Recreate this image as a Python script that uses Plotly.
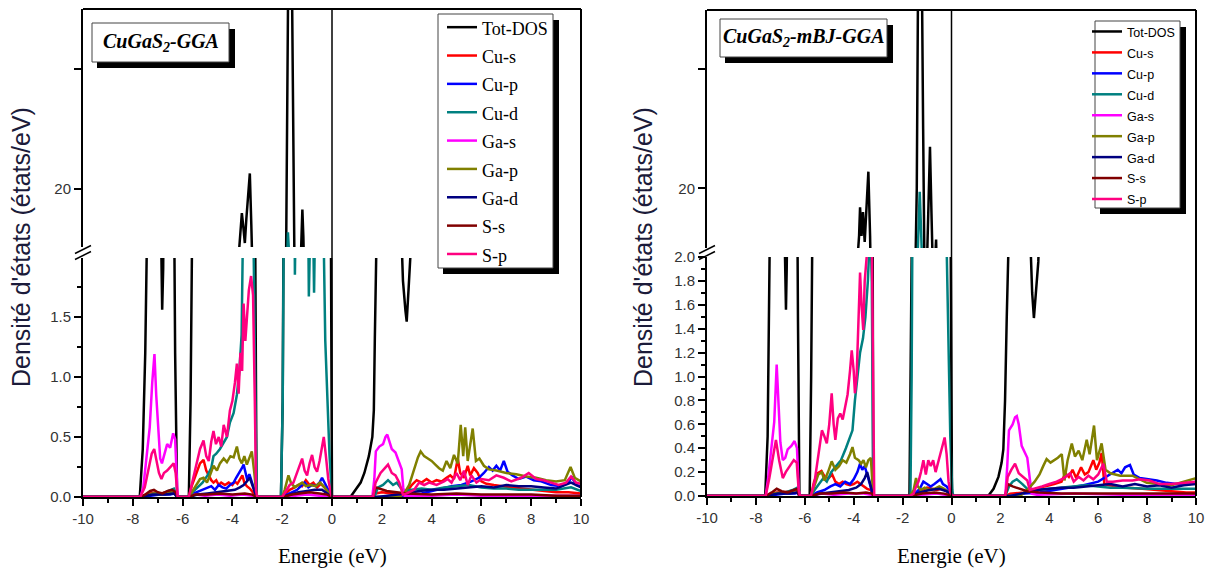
import plotly.graph_objects as go

# ---------------------------------------------------------------------------
# Density of states of CuGaS2 (energy in eV, DOS in states/eV), two functionals.
# Each series is a list of (energy, DOS) points.
# ---------------------------------------------------------------------------

series_names = ["Tot-DOS", "Cu-s", "Cu-p", "Cu-d", "Ga-s", "Ga-p", "Ga-d", "S-s", "S-p"]
series_colors = ["#000000", "#ff0000", "#0000ff", "#008080", "#ff00ff",
                 "#808000", "#000080", "#800000", "#ff0080"]

x_tick_vals = [-10, -8, -6, -4, -2, 0, 2, 4, 6, 8, 10]
x_tick_text = ["-10", "-8", "-6", "-4", "-2", "0", "2", "4", "6", "8", "10"]
gga_low_ticks = [0.0, 0.5, 1.0, 1.5]
mbj_low_ticks = [0.0, 0.2, 0.4, 0.6, 0.8, 1.0, 1.2, 1.4, 1.6, 1.8, 2.0]
high_tick_vals = [20]
high_tick_text = ["20"]
high_minor_vals = [30]

# ----------------------------- GGA -----------------------------------------
gga_tot = [(-10, 0), (-7.72, 0), (-7.6, 0.4), (-7.5, 1.2), (-7.4, 2.6), (-7.3, 6.0), (-7.15, 9.5),
           (-7.0, 7.0), (-6.92, 3.0), (-6.86, 1.9), (-6.82, 1.56), (-6.78, 1.9), (-6.72, 3.5),
           (-6.6, 7.5), (-6.45, 6.0), (-6.36, 3.0), (-6.3, 1.2), (-6.22, 0),
           (-5.75, 0), (-5.68, 0.8), (-5.6, 2.6), (-5.45, 6.0), (-5.2, 7.5), (-4.9, 8.5), (-4.6, 8.0),
           (-4.3, 10.0), (-4.0, 11.5), (-3.8, 13.0), (-3.68, 16.0), (-3.62, 18.0), (-3.56, 16.8),
           (-3.5, 15.5), (-3.44, 17.5), (-3.38, 19.2), (-3.3, 21.3), (-3.24, 17.0), (-3.15, 7.0),
           (-3.08, 2.0), (-3.03, 0),
           (-2.05, 0), (-1.98, 0.8), (-1.94, 2.5), (-1.86, 10.0), (-1.8, 25.0), (-1.75, 40.0),
           (-1.62, 40.0), (-1.55, 25.0), (-1.5, 12.0), (-1.4, 9.0), (-1.3, 11.0), (-1.24, 15.0),
           (-1.19, 18.3), (-1.15, 16.0), (-1.08, 9.0), (-0.9, 7.5), (-0.6, 6.5), (-0.35, 5.5),
           (-0.15, 4.5), (-0.04, 2.0), (0.0, 0),
           (0.74, 0), (0.95, 0.06), (1.15, 0.12), (1.3, 0.2), (1.48, 0.34), (1.62, 0.5), (1.68, 0.72),
           (1.72, 1.32), (1.76, 2.0), (1.85, 3.5), (2.1, 6.0), (2.4, 5.0), (2.65, 3.0), (2.78, 2.1),
           (2.85, 1.8), (2.95, 1.55), (3.0, 1.46), (3.08, 1.75), (3.16, 2.05), (3.3, 4.0), (3.6, 6.5),
           (4.2, 6.0), (4.8, 7.5), (5.4, 9.0), (6.0, 8.0), (6.6, 6.5), (7.4, 5.5), (8.2, 5.0),
           (9.0, 5.0), (10, 5.0)]

gga_cu_s = [(-10, 0), (-7.7, 0), (-7.5, 0.02), (-7.3, 0.03), (-7.1, 0.04), (-6.9, 0.03), (-6.6, 0.04),
            (-6.35, 0.05), (-6.22, 0),
            (-5.75, 0), (-5.62, 0.1), (-5.45, 0.2), (-5.3, 0.28), (-5.16, 0.31), (-5.05, 0.22),
            (-4.95, 0.18), (-4.85, 0.14), (-4.76, 0.12), (-4.65, 0.14), (-4.55, 0.1), (-4.45, 0.12),
            (-4.3, 0.1), (-4.15, 0.12), (-4.0, 0.1), (-3.9, 0.13), (-3.8, 0.11), (-3.7, 0.15),
            (-3.6, 0.18), (-3.52, 0.12), (-3.42, 0.09), (-3.3, 0.07), (-3.18, 0.04), (-3.03, 0),
            (-2.0, 0), (-1.85, 0.03), (-1.7, 0.06), (-1.5, 0.08), (-1.35, 0.1), (-1.2, 0.09),
            (-1.05, 0.14), (-0.9, 0.1), (-0.75, 0.12), (-0.6, 0.08), (-0.45, 0.11), (-0.3, 0.08),
            (-0.15, 0.04), (0.0, 0),
            (1.6, 0), (1.75, 0.03), (2.0, 0.04), (2.4, 0.03), (2.8, 0.02), (3.0, 0.04), (3.2, 0.1),
            (3.4, 0.14), (3.6, 0.12), (3.8, 0.15), (4.0, 0.12), (4.2, 0.14), (4.4, 0.13), (4.6, 0.16),
            (4.75, 0.18), (4.9, 0.15), (5.05, 0.32), (5.15, 0.2), (5.3, 0.16), (5.45, 0.26),
            (5.55, 0.18), (5.7, 0.24), (5.85, 0.2), (6.0, 0.13), (6.2, 0.11), (6.5, 0.1), (6.8, 0.09),
            (7.2, 0.08), (7.6, 0.07), (8.0, 0.06), (8.5, 0.05), (9.0, 0.04), (9.5, 0.04), (10, 0.03)]

gga_cu_p = [(-10, 0), (-7.7, 0), (-7.3, 0.01), (-6.9, 0.02), (-6.5, 0.02), (-6.3, 0.03), (-6.22, 0),
            (-5.75, 0), (-5.55, 0.03), (-5.3, 0.05), (-5.05, 0.07), (-4.85, 0.09), (-4.7, 0.06),
            (-4.55, 0.1), (-4.4, 0.08), (-4.25, 0.07), (-4.1, 0.1), (-3.95, 0.12), (-3.85, 0.16),
            (-3.72, 0.2), (-3.62, 0.24), (-3.55, 0.27), (-3.48, 0.2), (-3.4, 0.14), (-3.32, 0.19),
            (-3.22, 0.12), (-3.1, 0.04), (-3.03, 0),
            (-2.0, 0), (-1.8, 0.02), (-1.6, 0.04), (-1.4, 0.06), (-1.25, 0.09), (-1.1, 0.12),
            (-0.95, 0.08), (-0.8, 0.1), (-0.65, 0.09), (-0.5, 0.12), (-0.4, 0.16), (-0.3, 0.12),
            (-0.15, 0.05), (0.0, 0),
            (2.8, 0), (3.2, 0.02), (3.6, 0.03), (4.0, 0.05), (4.4, 0.07), (4.8, 0.09), (5.2, 0.1),
            (5.6, 0.13), (5.9, 0.16), (6.1, 0.2), (6.3, 0.25), (6.45, 0.22), (6.6, 0.26), (6.75, 0.22),
            (6.9, 0.3), (7.05, 0.21), (7.25, 0.18), (7.5, 0.15), (7.8, 0.17), (8.1, 0.14), (8.4, 0.13),
            (8.8, 0.1), (9.2, 0.09), (9.5, 0.12), (9.62, 0.17), (9.8, 0.1), (10, 0.09)]

gga_cu_d = [(-10, 0), (-7.7, 0), (-7.4, 0.02), (-7.1, 0.03), (-6.8, 0.03), (-6.55, 0.05), (-6.35, 0.07),
            (-6.22, 0),
            (-5.75, 0), (-5.6, 0.04), (-5.4, 0.08), (-5.2, 0.12), (-5.0, 0.18), (-4.85, 0.24),
            (-4.76, 0.34), (-4.65, 0.36), (-4.5, 0.4), (-4.35, 0.45), (-4.22, 0.5), (-4.1, 0.62),
            (-3.95, 0.7), (-3.82, 0.85), (-3.72, 1.05), (-3.63, 1.35), (-3.58, 2.3), (-3.5, 4.0),
            (-3.4, 5.0), (-3.3, 4.5), (-3.2, 3.0), (-3.12, 1.5), (-3.06, 0.4), (-3.03, 0),
            (-2.05, 0), (-1.98, 0.8), (-1.94, 2.2), (-1.88, 8.0), (-1.82, 14.0), (-1.77, 16.4),
            (-1.72, 14.5), (-1.62, 8.0), (-1.53, 3.5), (-1.49, 1.85), (-1.44, 3.0), (-1.3, 5.0),
            (-1.15, 4.0), (-1.0, 3.0), (-0.95, 2.2), (-0.93, 1.67), (-0.9, 2.3), (-0.8, 3.0),
            (-0.74, 2.0), (-0.72, 1.7), (-0.68, 2.3), (-0.55, 2.8), (-0.42, 2.4), (-0.33, 2.1),
            (-0.27, 1.3), (-0.2, 0.85), (-0.1, 0.35), (0.0, 0),
            (1.7, 0), (1.85, 0.08), (2.05, 0.1), (2.25, 0.14), (2.45, 0.1), (2.6, 0.12), (2.85, 0.05),
            (3.2, 0.06), (3.6, 0.07), (4.0, 0.06), (4.5, 0.08), (5.0, 0.09), (5.5, 0.1), (6.0, 0.08),
            (6.5, 0.07), (7.0, 0.07), (7.5, 0.06), (8.0, 0.06), (9.0, 0.06), (9.6, 0.08), (10, 0.05)]

gga_ga_s = [(-10, 0), (-7.7, 0), (-7.58, 0.08), (-7.45, 0.35), (-7.32, 0.58), (-7.22, 0.95),
            (-7.13, 1.19), (-7.06, 0.85), (-6.98, 0.55), (-6.9, 0.32), (-6.83, 0.28), (-6.74, 0.36),
            (-6.62, 0.44), (-6.5, 0.41), (-6.38, 0.53), (-6.3, 0.48), (-6.24, 0.08), (-6.2, 0),
            (-5.75, 0), (-5.5, 0.02), (-5.1, 0.01), (-4.6, 0.02), (-4.1, 0.01), (-3.6, 0.02),
            (-3.2, 0.01), (-3.03, 0),
            (-2.0, 0), (-1.5, 0.01), (-1.0, 0.02), (-0.5, 0.01), (0.0, 0),
            (1.62, 0), (1.7, 0.15), (1.76, 0.38), (1.9, 0.42), (2.05, 0.44), (2.15, 0.5), (2.22, 0.52),
            (2.3, 0.46), (2.4, 0.4), (2.55, 0.37), (2.68, 0.3), (2.8, 0.23), (2.86, 0.08), (2.92, 0.01),
            (4.0, 0.01), (5.0, 0.02), (6.0, 0.01), (8.0, 0.01), (10, 0.01)]

gga_ga_p = [(-10, 0), (-7.7, 0), (-7.4, 0.02), (-7.15, 0.03), (-6.9, 0.02), (-6.6, 0.04), (-6.35, 0.05),
            (-6.22, 0),
            (-5.75, 0), (-5.6, 0.05), (-5.45, 0.1), (-5.3, 0.15), (-5.16, 0.16), (-5.02, 0.12),
            (-4.9, 0.18), (-4.76, 0.26), (-4.62, 0.22), (-4.5, 0.28), (-4.35, 0.32), (-4.22, 0.29),
            (-4.08, 0.34), (-3.95, 0.33), (-3.82, 0.42), (-3.72, 0.32), (-3.62, 0.28), (-3.52, 0.34),
            (-3.42, 0.27), (-3.32, 0.33), (-3.22, 0.38), (-3.12, 0.2), (-3.03, 0),
            (-2.0, 0), (-1.9, 0.06), (-1.75, 0.18), (-1.65, 0.12), (-1.5, 0.08), (-1.35, 0.1),
            (-1.2, 0.12), (-1.05, 0.09), (-0.85, 0.1), (-0.65, 0.09), (-0.48, 0.12), (-0.3, 0.08),
            (-0.15, 0.04), (0.0, 0),
            (2.7, 0), (2.9, 0.03), (3.1, 0.1), (3.3, 0.24), (3.45, 0.33), (3.56, 0.38), (3.7, 0.34),
            (3.85, 0.32), (4.0, 0.3), (4.15, 0.27), (4.3, 0.24), (4.45, 0.22), (4.6, 0.3), (4.75, 0.24),
            (4.9, 0.35), (5.05, 0.28), (5.17, 0.6), (5.27, 0.34), (5.35, 0.58), (5.45, 0.3),
            (5.55, 0.42), (5.65, 0.57), (5.78, 0.3), (5.92, 0.32), (6.1, 0.26), (6.3, 0.23),
            (6.6, 0.22), (7.0, 0.2), (7.4, 0.19), (7.8, 0.17), (8.2, 0.16), (8.6, 0.14), (9.0, 0.13),
            (9.35, 0.14), (9.58, 0.25), (9.75, 0.16), (10, 0.13)]

gga_ga_d = [(-10, 0), (-7.7, 0), (-7.2, 0.02), (-6.7, 0.02), (-6.35, 0.03), (-6.22, 0),
            (-5.75, 0), (-5.4, 0.02), (-5.0, 0.03), (-4.6, 0.04), (-4.2, 0.05), (-3.9, 0.06),
            (-3.7, 0.08), (-3.55, 0.1), (-3.42, 0.13), (-3.3, 0.16), (-3.2, 0.1), (-3.1, 0.03),
            (-3.03, 0),
            (-2.0, 0), (-1.7, 0.02), (-1.35, 0.04), (-1.0, 0.05), (-0.7, 0.06), (-0.4, 0.06),
            (-0.2, 0.03), (0.0, 0),
            (1.8, 0), (2.2, 0.01), (2.6, 0.02), (3.0, 0.03), (3.5, 0.05), (4.0, 0.06), (4.5, 0.06),
            (5.0, 0.07), (5.5, 0.08), (6.0, 0.09), (6.5, 0.08), (7.0, 0.1), (7.5, 0.09), (8.0, 0.09),
            (8.5, 0.08), (9.0, 0.07), (9.6, 0.12), (10, 0.08)]

gga_s_s = [(-10, 0), (-7.7, 0), (-7.5, 0.02), (-7.3, 0.05), (-7.15, 0.06), (-7.0, 0.04), (-6.8, 0.03),
           (-6.6, 0.05), (-6.42, 0.06), (-6.28, 0.04), (-6.2, 0),
           (-5.75, 0), (-5.5, 0.02), (-5.0, 0.02), (-4.5, 0.03), (-4.0, 0.02), (-3.5, 0.03),
           (-3.2, 0.02), (-3.03, 0),
           (-2.0, 0), (-1.6, 0.02), (-1.2, 0.03), (-0.9, 0.04), (-0.5, 0.03), (-0.2, 0.02), (0.0, 0),
           (1.65, 0), (1.75, 0.08), (1.9, 0.07), (2.2, 0.05), (2.6, 0.04), (3.0, 0.03), (4.0, 0.02),
           (5.0, 0.03), (6.0, 0.02), (7.0, 0.02), (8.0, 0.02), (9.0, 0.01), (10, 0.01)]

gga_s_p = [(-10, 0), (-7.7, 0), (-7.52, 0.08), (-7.38, 0.22), (-7.24, 0.36), (-7.14, 0.4), (-7.05, 0.3),
           (-6.95, 0.2), (-6.85, 0.15), (-6.75, 0.2), (-6.62, 0.22), (-6.48, 0.25), (-6.36, 0.28),
           (-6.28, 0.2), (-6.2, 0),
           (-5.75, 0), (-5.62, 0.12), (-5.45, 0.26), (-5.3, 0.4), (-5.16, 0.47), (-5.05, 0.34),
           (-4.95, 0.3), (-4.85, 0.46), (-4.76, 0.55), (-4.66, 0.44), (-4.55, 0.5), (-4.45, 0.42),
           (-4.35, 0.6), (-4.22, 0.5), (-4.1, 0.72), (-4.0, 0.8), (-3.9, 0.95), (-3.82, 1.11),
           (-3.75, 0.86), (-3.68, 1.2), (-3.61, 1.05), (-3.55, 1.61), (-3.48, 1.3), (-3.41, 1.5),
           (-3.34, 1.72), (-3.25, 1.84), (-3.17, 1.68), (-3.1, 0.8), (-3.05, 0.05), (-3.0, 0),
           (-2.0, 0), (-1.85, 0.05), (-1.7, 0.1), (-1.55, 0.12), (-1.4, 0.2), (-1.28, 0.28),
           (-1.2, 0.32), (-1.1, 0.22), (-1.0, 0.18), (-0.9, 0.28), (-0.8, 0.35), (-0.7, 0.25),
           (-0.6, 0.21), (-0.5, 0.3), (-0.4, 0.42), (-0.33, 0.5), (-0.25, 0.35), (-0.15, 0.15),
           (-0.05, 0.03), (0.0, 0),
           (1.65, 0), (1.75, 0.12), (1.95, 0.2), (2.15, 0.25), (2.25, 0.27), (2.4, 0.2), (2.55, 0.18),
           (2.7, 0.12), (2.85, 0.02), (3.0, 0.03), (3.3, 0.06), (3.5, 0.12), (3.7, 0.1), (3.9, 0.12),
           (4.2, 0.1), (4.5, 0.13), (4.65, 0.15), (4.8, 0.12), (5.0, 0.2), (5.15, 0.14), (5.3, 0.22),
           (5.45, 0.1), (5.6, 0.18), (5.8, 0.12), (6.0, 0.15), (6.3, 0.14), (6.6, 0.18), (6.9, 0.16),
           (7.2, 0.13), (7.6, 0.16), (7.9, 0.2), (8.2, 0.15), (8.5, 0.14), (8.8, 0.12), (9.1, 0.1),
           (9.4, 0.12), (9.6, 0.17), (9.8, 0.12), (10, 0.11)]

# ----------------------------- mBJ-GGA -------------------------------------
mbj_tot = [(-10, 0), (-7.62, 0), (-7.52, 0.5), (-7.42, 2.4), (-7.3, 6.0), (-7.12, 9.0), (-6.98, 6.5),
           (-6.88, 2.8), (-6.82, 1.9), (-6.77, 1.56), (-6.74, 1.9), (-6.7, 3.0), (-6.58, 6.5),
           (-6.45, 7.0), (-6.35, 4.0), (-6.28, 1.5), (-6.22, 0),
           (-5.8, 0), (-5.74, 1.0), (-5.62, 4.0), (-5.35, 7.0), (-4.95, 8.0), (-4.55, 9.0),
           (-4.15, 11.0), (-3.88, 13.0), (-3.78, 16.0), (-3.74, 18.4), (-3.68, 16.0), (-3.62, 18.0),
           (-3.55, 15.5), (-3.46, 19.0), (-3.4, 21.4), (-3.33, 16.0), (-3.27, 6.0), (-3.2, 0),
           (-1.72, 0), (-1.63, 2.0), (-1.52, 8.0), (-1.42, 20.0), (-1.36, 40.0), (-1.22, 40.0),
           (-1.16, 25.0), (-1.1, 12.0), (-1.0, 14.0), (-0.93, 20.0), (-0.88, 23.5), (-0.82, 18.0),
           (-0.75, 12.0), (-0.67, 14.0), (-0.63, 15.7), (-0.57, 9.0), (-0.35, 7.0), (-0.12, 5.0),
           (-0.03, 2.0), (0.02, 0),
           (1.5, 0), (1.72, 0.06), (1.92, 0.16), (2.05, 0.28), (2.12, 0.39), (2.19, 0.8), (2.26, 1.5),
           (2.32, 2.3), (2.5, 5.0), (2.8, 6.0), (3.08, 3.0), (3.24, 2.05), (3.3, 1.7), (3.37, 1.49),
           (3.45, 1.7), (3.55, 1.96), (3.7, 3.0), (4.2, 6.0), (5.0, 7.0), (5.8, 8.0), (6.5, 6.0),
           (7.5, 5.0), (8.5, 5.0), (10, 5.0)]

mbj_cu_s = [(-10, 0), (-7.6, 0), (-7.4, 0.02), (-7.15, 0.03), (-6.9, 0.03), (-6.6, 0.04), (-6.35, 0.05),
            (-6.22, 0),
            (-5.75, 0), (-5.62, 0.12), (-5.48, 0.19), (-5.32, 0.21), (-5.18, 0.16), (-5.02, 0.15),
            (-4.88, 0.18), (-4.75, 0.12), (-4.6, 0.1), (-4.45, 0.12), (-4.3, 0.1), (-4.15, 0.09),
            (-4.0, 0.1), (-3.85, 0.12), (-3.72, 0.1), (-3.58, 0.08), (-3.45, 0.06), (-3.3, 0.05),
            (-3.2, 0),
            (-1.7, 0), (-1.4, 0.03), (-1.2, 0.05), (-1.0, 0.07), (-0.8, 0.06), (-0.6, 0.05),
            (-0.4, 0.06), (-0.2, 0.04), (0.05, 0),
            (2.2, 0), (2.4, 0.02), (3.0, 0.03), (3.4, 0.05), (3.8, 0.08), (4.2, 0.1), (4.5, 0.12),
            (4.65, 0.19), (4.8, 0.16), (4.95, 0.22), (5.1, 0.15), (5.3, 0.24), (5.45, 0.18), (5.6, 0.2),
            (5.8, 0.3), (5.92, 0.22), (6.05, 0.28), (6.14, 0.36), (6.25, 0.1), (6.45, 0.09),
            (6.8, 0.08), (7.2, 0.07), (7.8, 0.06), (8.4, 0.05), (9.0, 0.04), (9.6, 0.03), (10, 0.03)]

mbj_cu_p = [(-10, 0), (-7.6, 0), (-7.2, 0.01), (-6.8, 0.02), (-6.4, 0.02), (-6.25, 0.03), (-6.22, 0),
            (-5.75, 0), (-5.5, 0.03), (-5.2, 0.05), (-4.95, 0.08), (-4.75, 0.1), (-4.55, 0.08),
            (-4.35, 0.12), (-4.15, 0.1), (-4.0, 0.14), (-3.85, 0.2), (-3.74, 0.27), (-3.65, 0.22),
            (-3.55, 0.25), (-3.45, 0.18), (-3.35, 0.1), (-3.24, 0.03), (-3.2, 0),
            (-1.7, 0), (-1.5, 0.02), (-1.3, 0.06), (-1.15, 0.12), (-1.0, 0.1), (-0.85, 0.08),
            (-0.7, 0.1), (-0.55, 0.12), (-0.45, 0.14), (-0.35, 0.1), (-0.2, 0.08), (-0.1, 0.05),
            (0.05, 0),
            (2.4, 0), (3.0, 0.02), (3.6, 0.03), (4.2, 0.05), (4.8, 0.07), (5.4, 0.09), (6.0, 0.12),
            (6.3, 0.16), (6.62, 0.2), (6.8, 0.22), (6.95, 0.19), (7.1, 0.24), (7.3, 0.26), (7.45, 0.18),
            (7.7, 0.15), (8.0, 0.14), (8.4, 0.13), (8.8, 0.11), (9.2, 0.1), (9.6, 0.1), (10, 0.12)]

mbj_cu_d = [(-10, 0), (-7.6, 0), (-7.2, 0.02), (-6.8, 0.03), (-6.5, 0.05), (-6.3, 0.07), (-6.22, 0),
            (-5.75, 0), (-5.6, 0.05), (-5.42, 0.1), (-5.24, 0.15), (-5.1, 0.12), (-4.92, 0.2),
            (-4.72, 0.25), (-4.52, 0.3), (-4.32, 0.4), (-4.16, 0.5), (-4.05, 0.55), (-3.95, 0.8),
            (-3.85, 1.0), (-3.74, 1.2), (-3.62, 1.32), (-3.52, 1.5), (-3.42, 1.8), (-3.32, 2.3),
            (-3.26, 1.8), (-3.22, 0.8), (-3.2, 0),
            (-1.68, 0), (-1.63, 1.0), (-1.58, 3.0), (-1.5, 7.0), (-1.4, 14.0), (-1.3, 19.7),
            (-1.22, 15.0), (-1.12, 8.0), (-0.95, 10.0), (-0.82, 9.0), (-0.7, 6.0), (-0.58, 5.0),
            (-0.45, 4.0), (-0.3, 3.5), (-0.2, 2.1), (-0.12, 1.2), (-0.05, 0.5), (0.03, 0.05), (0.07, 0),
            (2.2, 0), (2.35, 0.08), (2.5, 0.12), (2.67, 0.14), (2.9, 0.1), (3.1, 0.06), (3.5, 0.05),
            (4.0, 0.06), (4.5, 0.07), (5.0, 0.08), (5.5, 0.09), (6.0, 0.08), (6.5, 0.07), (7.0, 0.07),
            (8.0, 0.06), (9.0, 0.06), (10, 0.06)]

mbj_ga_s = [(-10, 0), (-7.6, 0), (-7.5, 0.15), (-7.36, 0.4), (-7.25, 0.62), (-7.15, 1.1), (-7.08, 0.75),
            (-7.0, 0.45), (-6.9, 0.3), (-6.8, 0.32), (-6.7, 0.39), (-6.55, 0.42), (-6.42, 0.46),
            (-6.32, 0.4), (-6.25, 0.05), (-6.2, 0),
            (-5.75, 0), (-5.3, 0.02), (-4.8, 0.01), (-4.2, 0.02), (-3.6, 0.02), (-3.3, 0.01), (-3.2, 0),
            (-1.7, 0), (-1.2, 0.01), (-0.6, 0.02), (0.05, 0),
            (2.2, 0), (2.28, 0.25), (2.35, 0.55), (2.5, 0.6), (2.6, 0.66), (2.67, 0.67), (2.75, 0.6),
            (2.87, 0.42), (3.0, 0.36), (3.1, 0.32), (3.2, 0.15), (3.28, 0.02), (3.5, 0.01),
            (5.0, 0.02), (7.0, 0.01), (10, 0.01)]

mbj_ga_p = [(-10, 0), (-7.6, 0), (-7.3, 0.02), (-7.0, 0.03), (-6.7, 0.03), (-6.4, 0.05), (-6.25, 0.04),
            (-6.22, 0),
            (-5.75, 0), (-5.6, 0.1), (-5.45, 0.18), (-5.3, 0.2), (-5.2, 0.13), (-5.05, 0.2), (-4.9, 0.29),
            (-4.75, 0.22), (-4.6, 0.25), (-4.45, 0.3), (-4.3, 0.28), (-4.15, 0.35), (-4.05, 0.41),
            (-3.95, 0.32), (-3.8, 0.3), (-3.7, 0.27), (-3.6, 0.3), (-3.5, 0.24), (-3.4, 0.3),
            (-3.3, 0.32), (-3.23, 0.1), (-3.2, 0),
            (-1.7, 0), (-1.55, 0.05), (-1.45, 0.15), (-1.38, 0.08), (-1.25, 0.05), (-1.1, 0.07),
            (-0.9, 0.05), (-0.7, 0.06), (-0.5, 0.08), (-0.3, 0.06), (-0.1, 0.03), (0.05, 0),
            (2.8, 0), (3.1, 0.05), (3.4, 0.12), (3.6, 0.18), (3.75, 0.25), (3.89, 0.31), (4.05, 0.28),
            (4.2, 0.3), (4.35, 0.32), (4.51, 0.35), (4.62, 0.13), (4.75, 0.3), (4.92, 0.44),
            (5.05, 0.33), (5.2, 0.38), (5.35, 0.3), (5.53, 0.47), (5.65, 0.35), (5.83, 0.59),
            (5.95, 0.3), (6.14, 0.44), (6.3, 0.22), (6.5, 0.19), (6.9, 0.17), (7.4, 0.17), (7.99, 0.11),
            (8.5, 0.1), (9.0, 0.09), (9.5, 0.12), (9.96, 0.15), (10, 0.15)]

mbj_ga_d = [(-10, 0), (-7.6, 0), (-7.1, 0.02), (-6.6, 0.02), (-6.3, 0.03), (-6.22, 0),
            (-5.75, 0), (-5.4, 0.02), (-5.0, 0.03), (-4.6, 0.04), (-4.2, 0.05), (-3.9, 0.07),
            (-3.7, 0.1), (-3.55, 0.15), (-3.45, 0.2), (-3.35, 0.12), (-3.24, 0.04), (-3.2, 0),
            (-1.7, 0), (-1.3, 0.03), (-0.9, 0.05), (-0.5, 0.06), (-0.2, 0.04), (0.05, 0),
            (2.4, 0), (3.0, 0.03), (3.5, 0.05), (4.0, 0.06), (4.5, 0.07), (5.0, 0.07), (5.5, 0.08),
            (6.0, 0.09), (6.5, 0.1), (7.0, 0.08), (7.5, 0.1), (8.0, 0.08), (8.5, 0.09), (9.0, 0.07),
            (9.5, 0.09), (10, 0.1)]

mbj_s_s = [(-10, 0), (-7.6, 0), (-7.35, 0.03), (-7.15, 0.06), (-6.95, 0.04), (-6.7, 0.03), (-6.45, 0.05),
           (-6.3, 0.06), (-6.22, 0),
           (-5.75, 0), (-5.4, 0.02), (-4.9, 0.02), (-4.4, 0.03), (-3.9, 0.02), (-3.5, 0.03),
           (-3.25, 0.02), (-3.2, 0),
           (-1.7, 0), (-1.2, 0.02), (-0.7, 0.03), (-0.3, 0.02), (0.05, 0),
           (2.2, 0), (2.3, 0.1), (2.5, 0.08), (2.8, 0.06), (3.1, 0.04), (3.6, 0.03), (4.5, 0.02),
           (5.5, 0.02), (6.5, 0.02), (8.0, 0.02), (10, 0.02)]

mbj_s_p = [(-10, 0), (-7.6, 0), (-7.45, 0.15), (-7.3, 0.35), (-7.18, 0.47), (-7.05, 0.3), (-6.9, 0.15),
           (-6.78, 0.2), (-6.6, 0.25), (-6.45, 0.3), (-6.33, 0.28), (-6.25, 0.05), (-6.2, 0),
           (-5.75, 0), (-5.6, 0.12), (-5.45, 0.35), (-5.3, 0.55), (-5.2, 0.5), (-5.1, 0.44), (-5.0, 0.6),
           (-4.9, 0.86), (-4.82, 0.6), (-4.75, 0.47), (-4.65, 0.65), (-4.55, 0.69), (-4.45, 0.64),
           (-4.35, 0.75), (-4.25, 0.85), (-4.15, 1.05), (-4.08, 1.22), (-4.0, 1.05), (-3.95, 0.86),
           (-3.88, 1.0), (-3.8, 1.5), (-3.74, 1.87), (-3.68, 1.6), (-3.61, 1.39), (-3.55, 1.8),
           (-3.47, 2.05), (-3.35, 2.3), (-3.26, 2.2), (-3.2, 1.0), (-3.16, 0),
           (-1.7, 0), (-1.55, 0.02), (-1.45, 0.08), (-1.35, 0.12), (-1.25, 0.2), (-1.15, 0.3),
           (-1.05, 0.18), (-0.95, 0.3), (-0.85, 0.25), (-0.75, 0.3), (-0.65, 0.2), (-0.55, 0.28),
           (-0.45, 0.35), (-0.35, 0.45), (-0.28, 0.49), (-0.2, 0.35), (-0.12, 0.12), (-0.05, 0.03),
           (0.05, 0),
           (2.2, 0), (2.3, 0.16), (2.45, 0.22), (2.6, 0.27), (2.75, 0.19), (2.95, 0.16), (3.1, 0.13),
           (3.2, 0.05), (3.4, 0.06), (3.7, 0.08), (4.0, 0.1), (4.3, 0.12), (4.6, 0.15), (4.85, 0.19),
           (5.0, 0.12), (5.2, 0.16), (5.4, 0.13), (5.6, 0.17), (5.8, 0.14), (6.0, 0.18), (6.21, 0.27),
           (6.35, 0.12), (6.6, 0.12), (7.0, 0.13), (7.4, 0.13), (7.71, 0.14), (8.1, 0.13), (8.5, 0.1),
           (9.0, 0.1), (9.5, 0.11), (10, 0.12)]

gga_series = [gga_tot, gga_cu_s, gga_cu_p, gga_cu_d, gga_ga_s, gga_ga_p, gga_ga_d, gga_s_s, gga_s_p]
mbj_series = [mbj_tot, mbj_cu_s, mbj_cu_p, mbj_cu_d, mbj_ga_s, mbj_ga_p, mbj_ga_d, mbj_s_s, mbj_s_p]

# ---------------------------------------------------------------------------
W, H = 1208, 570


def px(x):
    return x / W


def py(y):
    return 1 - y / H


SERIF = "Liberation Serif, Times New Roman, serif"
SANS = "Liberation Sans, Arial, sans-serif"
TICK_FONT = dict(family=SANS, size=15, color="#333333")

panels = [
    dict(series=gga_series, xa="x", ylo="y", yhi="y2", legend="legend",
         left=83, right=581, top=9, bottom=497, lo_top=258, hi_bot=247,
         lo_range=[0, 1.99], hi_range=[15.17, 35], lo_ticks=gga_low_ticks, lo_minor=0.25,
         title="<b><i>CuGaS<sub>2</sub>-GGA</i></b>", tbox=(92, 23, 229, 62),
         ytitle_x=21, xtitle_y=556,
         lbox=(438, 14, 553, 268), legend_pos=(442, 8), legend_font=19.5,
         legend_family=SERIF, legend_text=18),
    dict(series=mbj_series, xa="x2", ylo="y3", yhi="y4", legend="legend2",
         left=707, right=1196, top=10, bottom=496, lo_top=257, hi_bot=248,
         lo_range=[0, 2.001], hi_range=[14.98, 35], lo_ticks=mbj_low_ticks, lo_minor=0.1,
         title="<b><i>CuGaS<sub>2</sub>-mBJ-GGA</i></b>", tbox=(720, 19, 887, 57),
         ytitle_x=643, xtitle_y=556,
         lbox=(1095, 21, 1180, 208), legend_pos=(1087, 16), legend_font=13.8,
         legend_family=SANS, legend_text=12.5),
]

fig = go.Figure()
shapes = []
annotations = []
layout_extra = {}


def axname(ref):
    return "xaxis" + ref[1:] if ref.startswith("x") else "yaxis" + ref[1:]


AX_COMMON = dict(showgrid=False, zeroline=False, showline=True, linecolor="black", linewidth=2,
                 ticks="outside", ticklen=7, tickwidth=1.5, tickcolor="black",
                 tickfont=TICK_FONT, automargin=False)

for p in panels:
    # every series is drawn on the lower and on the upper part of the broken axis
    for yref, show in ((p["ylo"], True), (p["yhi"], False)):
        for name, color, pts in zip(series_names, series_colors, p["series"]):
            label = '<span style="font-size:%gpx">%s</span>' % (p["legend_text"], name)
            fig.add_trace(go.Scatter(
                x=[e for e, _ in pts], y=[v for _, v in pts], mode="lines", name=label,
                line=dict(color=color, width=2.5), xaxis=p["xa"], yaxis=yref,
                legend=p["legend"], showlegend=show, hoverinfo="skip"))

    layout_extra[axname(p["xa"])] = dict(
        AX_COMMON, domain=[px(p["left"]), px(p["right"])], range=[-10, 10], anchor=p["ylo"],
        tickmode="array", tickvals=x_tick_vals, ticktext=x_tick_text,
        minor=dict(tickmode="linear", tick0=-10, dtick=1, ticks="outside", ticklen=4,
                   tickwidth=1.5, tickcolor="black"))
    layout_extra[axname(p["ylo"])] = dict(
        AX_COMMON, domain=[py(p["bottom"]), py(p["lo_top"])], range=p["lo_range"], anchor=p["xa"],
        tickmode="array", tickvals=p["lo_ticks"], ticktext=["%.1f" % v for v in p["lo_ticks"]],
        minor=dict(tickmode="linear", tick0=0, dtick=p["lo_minor"], ticks="outside", ticklen=4,
                   tickwidth=1.5, tickcolor="black"))
    layout_extra[axname(p["yhi"])] = dict(
        AX_COMMON, domain=[py(p["hi_bot"]), py(p["top"])], range=p["hi_range"], anchor=p["xa"],
        tickmode="array", tickvals=high_tick_vals, ticktext=high_tick_text,
        minor=dict(tickmode="array", tickvals=high_minor_vals, ticks="outside", ticklen=7,
                   tickwidth=1.5, tickcolor="black"))

    L, R, T, B = p["left"], p["right"], p["top"], p["bottom"]
    line = dict(color="black", width=2)
    # frame: top and right borders
    shapes.append(dict(type="line", xref="paper", yref="paper", x0=px(L), x1=px(R),
                       y0=py(T), y1=py(T), line=line, layer="above"))
    shapes.append(dict(type="line", xref="paper", yref="paper", x0=px(R), x1=px(R),
                       y0=py(B), y1=py(T), line=line, layer="above"))
    # Fermi level
    shapes.append(dict(type="line", xref=p["xa"], yref="paper", x0=0, x1=0,
                       y0=py(B), y1=py(T), line=dict(color="black", width=1.5), layer="above"))
    # axis-break marks
    ymid = (p["lo_top"] + p["hi_bot"]) / 2
    for dy in (-3, 3):
        shapes.append(dict(type="line", xref="paper", yref="paper",
                           x0=px(L - 8), y0=py(ymid + dy + 4), x1=px(L + 8), y1=py(ymid + dy - 4),
                           line=dict(color="black", width=1.5), layer="above"))
    # title box and legend box, each with a drop shadow
    for (x0, y0, x1, y1) in (p["tbox"], p["lbox"]):
        shapes.append(dict(type="rect", xref="paper", yref="paper", x0=px(x0 + 5), x1=px(x1 + 6),
                           y0=py(y1 + 6), y1=py(y0 + 6), fillcolor="black", line=dict(width=0),
                           layer="above"))
        shapes.append(dict(type="rect", xref="paper", yref="paper", x0=px(x0), x1=px(x1),
                           y0=py(y1), y1=py(y0), fillcolor="white",
                           line=dict(color="#444444", width=1), layer="above"))
    x0, y0, x1, y1 = p["tbox"]
    annotations.append(dict(text=p["title"], xref="paper", yref="paper",
                            x=px((x0 + x1) / 2), y=py((y0 + y1) / 2), showarrow=False,
                            xanchor="center", yanchor="middle",
                            font=dict(family=SERIF, size=20, color="black")))
    # axis titles
    annotations.append(dict(text="Densité d'états (états/eV)", xref="paper", yref="paper",
                            x=px(p["ytitle_x"]), y=py(247), textangle=-90, showarrow=False,
                            xanchor="center", yanchor="middle",
                            font=dict(family=SANS, size=25, color="#1b1b3a")))
    annotations.append(dict(text="Energie (eV)", xref="paper", yref="paper",
                            x=px((L + R) / 2), y=py(p["xtitle_y"]), showarrow=False,
                            xanchor="center", yanchor="middle",
                            font=dict(family=SERIF, size=21, color="black")))

    lx, ly = p["legend_pos"]
    layout_extra[p["legend"]] = dict(
        x=px(lx), y=py(ly), xanchor="left", yanchor="top", bgcolor="rgba(0,0,0,0)",
        borderwidth=0, tracegroupgap=0,
        font=dict(family=p["legend_family"], size=p["legend_font"], color="black"))

fig.update_layout(
    width=W, height=H, autosize=False,
    margin=dict(l=0, r=0, t=0, b=0, autoexpand=False),
    paper_bgcolor="white", plot_bgcolor="white",
    shapes=shapes, annotations=annotations,
    **layout_extra,
)

fig.write_html("out.html")
